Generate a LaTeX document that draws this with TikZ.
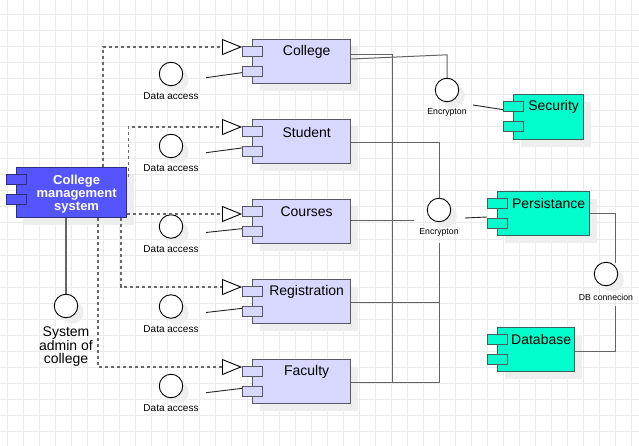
\documentclass[tikz,border=0pt]{standalone}
\usepackage{fontspec}
\setmainfont{Liberation Sans}
\usetikzlibrary{shadows,calc,arrows.meta}
\definecolor{lav}{RGB}{216,216,255}
\definecolor{cmsblue}{RGB}{85,85,255}
\definecolor{cmsedge}{RGB}{45,45,130}
\definecolor{teal}{RGB}{0,255,204}
\definecolor{tealedge}{RGB}{55,100,92}
\definecolor{boxedge}{RGB}{88,88,100}
\definecolor{linec}{RGB}{100,100,100}
\definecolor{dashc}{RGB}{105,105,105}
\definecolor{gridc}{RGB}{235,235,235}
\definecolor{shadowc}{RGB}{238,238,238}
\newcommand\mkcomp[7]{%
  \node[comp, fill=#6, minimum width=#4pt, minimum height=#5pt] (#1) at (#2,#3) {};
  \node[port, fill=#6] (#1-p1) at ($(#1.north west)+(-10,7)$) {};
  \node[port, fill=#6] (#1-p2) at ($(#1.north west)+(-10,27)$) {};
  \node[lbl] (#1-t) at ($(#1.north)+(5,13)$) {#7};
}
\begin{document}
\begin{tikzpicture}[x=1pt,y=-1pt,
  comp/.style={draw=boxedge, line width=1.3pt, rectangle, inner sep=0pt, anchor=north west,
    general shadow={fill=shadowc, shadow xshift=7pt, shadow yshift=-7pt}},
  port/.style={draw=boxedge, line width=1.3pt, rectangle, inner sep=0pt, anchor=north west,
    minimum width=20pt, minimum height=10pt},
  lbl/.style={font=\fontsize{14}{16}\selectfont, text=black},
  small/.style={font=\fontsize{10}{12}\selectfont, text=black},
  tiny/.style={font=\fontsize{8.7}{10}\selectfont, text=black},
  circ/.style={circle, draw=black, line width=0.9pt, fill=white, minimum size=23.5pt, inner sep=0pt,
    general shadow={fill=shadowc, shadow xshift=6pt, shadow yshift=-6pt}},
  conn/.style={draw=linec, line width=1pt},
  thinl/.style={draw=black!85, line width=0.9pt},
  dep/.style={draw=dashc, line width=1.3pt, dash pattern=on 3pt off 3pt,
    -{Triangle[length=20pt, width=16pt, color=black, fill=white, line width=0.9pt]}}
]
\useasboundingbox (0,0) rectangle (639,446);
\fill[white] (0,0) rectangle (639,446);
\foreach \x in {7,23,...,631} \draw[gridc, line width=1pt] (\x,0) -- (\x,446);
\foreach \y in {15,31,...,431} \draw[gridc, line width=1pt] (0,\y) -- (639,\y);

% main components
\mkcomp{college}{252}{39}{98}{44}{lav}{College}
\mkcomp{student}{252}{119}{98}{44}{lav}{Student}
\mkcomp{courses}{252}{199}{98}{44}{lav}{Courses}
\mkcomp{registration}{252}{279}{98}{44}{lav}{Registration}
\mkcomp{faculty}{252}{359}{98}{44}{lav}{Faculty}

% services
\node[comp, draw=tealedge, fill=teal, minimum width=70pt, minimum height=45pt] (security) at (513,94) {};
\node[port, draw=tealedge, fill=teal] (security-p1) at ($(security.north west)+(-10,7)$) {};
\node[port, draw=tealedge, fill=teal] (security-p2) at ($(security.north west)+(-10,27)$) {};
\node[lbl] (security-t) at ($(security.north)+(5,13)$) {Security};

\node[comp, draw=tealedge, fill=teal, minimum width=92pt, minimum height=44pt] (pers) at (497,191) {};
\node[port, draw=tealedge, fill=teal] (pers-p1) at ($(pers.north west)+(-10,7)$) {};
\node[port, draw=tealedge, fill=teal] (pers-p2) at ($(pers.north west)+(-10,27)$) {};
\node[lbl] (pers-t) at ($(pers.north)+(5,12)$) {Persistance};

\node[comp, draw=tealedge, fill=teal, minimum width=77pt, minimum height=44pt] (database) at (497,327) {};
\node[port, draw=tealedge, fill=teal] (database-p1) at ($(database.north west)+(-10,7)$) {};
\node[port, draw=tealedge, fill=teal] (database-p2) at ($(database.north west)+(-10,27)$) {};
\node[lbl] (database-t) at ($(database.north)+(5,12.5)$) {Database};

% college management system
\node[comp, draw=cmsedge, fill=cmsblue, minimum width=110pt, minimum height=50pt] (cms) at (16,167) {};
\node[port, draw=cmsedge, fill=cmsblue] (cms-p1) at ($(cms.north west)+(-10,7)$) {};
\node[port, draw=cmsedge, fill=cmsblue] (cms-p2) at ($(cms.north west)+(-10,27)$) {};
\node[font=\bfseries\fontsize{13}{13}\selectfont, text=white, align=center] (cms-t)
  at ($(cms.center)+(5,1)$) {College\\management\\system};

% interfaces
\node[circ] (admin) at (66,306) {};
\node[lbl, align=center, font=\fontsize{14}{13}\selectfont] (admin-t) at (66,346.5) {System\\admin of\\college};

\foreach \n/\y in {1/74,2/146,3/226.5,4/306.5,5/386}{
  \node[circ] (da\n) at (171,\y) {};
  \node[small] (da\n-t) at ($(da\n)+(0,22.5)$) {Data access};
}
\node[circ] (e1) at (447,90) {};
\node[tiny] (e1-t) at ($(e1)+(0,22)$) {Encrypton};
\node[circ] (e2) at (439,210) {};
\node[tiny] (e2-t) at ($(e2)+(0,22)$) {Encrypton};
\node[circ] (db) at (606,274) {};
\node[tiny] (db-t) at ($(db)+(0,23)$) {DB connecion};

% dependency (dashed) connectors
\draw[dep] ($(cms.north west)+(87,0)$) |- ($(college.north west)+(-10,8)$);
\draw[dep] ($(cms.north east)+(1,10)$) |- ($(student.north west)+(-10,8)$);
\draw[dep] ($(cms.north east)+(0,47)$) -- ($(courses.north west)+(-10,15)$);
\draw[dep] ($(cms.south west)+(105,0)$) |- ($(registration.north west)+(-10,8)$);
\draw[dep] ($(cms.south west)+(82,0)$) |- ($(faculty.north west)+(-10,8)$);

\draw[conn, line width=1.3pt] (admin |- cms.south) -- (admin.north);

% data access lines
\draw[thinl] ($(da1)+(35,3.7)$) -- ($(college-p2.west)+(0,1)$);
\draw[thinl] ($(da2)+(35,6.7)$) -- ($(student-p2.west)+(0,-3.7)$);
\draw[thinl] ($(da3)+(35,6)$) -- ($(courses-p2.west)+(0,-3)$);
\draw[thinl] ($(da4)+(35,6)$) -- ($(registration-p2.west)+(0,-3.3)$);
\draw[thinl] ($(da5)+(35,6.7)$) -- ($(faculty-p2.west)+(0,-3.3)$);

% right side wiring
\coordinate (c1) at ($(college.north east)+(0,16)$);
\coordinate (c2) at ($(college.north east)+(0,20)$);
\coordinate (f1) at ($(faculty.north east)+(0,23)$);
\coordinate (busA) at ($(college.north east)+(41,0)$);
\coordinate (cend) at ($(e2.west)+(-13,11)$);
\coordinate (e2b) at ($(e2)+(0,33)$);
\coordinate (dbtop) at ($(db)+(9,-11)$);
\coordinate (dbbot) at ($(db)+(9,32)$);

\draw[conn] (c1) -| (busA |- f1) -- (f1);
\draw[conn] (c2) -- ($(e1.north)+(0,-23)$) -- (e1.north);
\draw[conn] ($(student.north east)+(0,24)$) -| (e2.north);
\draw[conn] ($(courses.north east)+(0,22)$) -- (cend);
\draw[conn] ($(registration.north east)+(0,23)$) coordinate (r1) -- (r1 -| e2);
\draw[conn] (f1) -| (e2b);
\draw[thinl] ($(e1)+(26,15)$) -- ($(security-p1.west)+(0,3)$);
\draw[thinl] ($(e2)+(26,8)$) -- ($(pers-p2.north west)+(0,-1)$);
\draw[conn] ($(pers.north east)+(0,23)$) -| (dbtop);
\draw[conn] ($(database.north east)+(0,24)$) -| (dbbot);
\end{tikzpicture}
\end{document}
